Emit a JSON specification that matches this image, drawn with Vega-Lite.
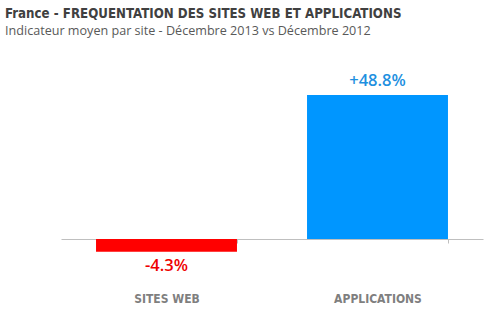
{
  "$schema": "https://vega.github.io/schema/vega-lite/v6.json",
  "width": 422,
  "height": 177,
  "autosize": {"type": "none"},
  "padding": {"left": 61, "top": 62, "right": 19, "bottom": 88},
  "background": "white",
  "config": {"view": {"stroke": null}},
  "title": {
    "text": "France - FREQUENTATION DES SITES WEB ET APPLICATIONS",
    "subtitle": "Indicateur moyen par site - Décembre 2013 vs Décembre 2012",
    "anchor": "start",
    "frame": "group",
    "dx": -56,
    "offset": 23,
    "font": "DejaVu Sans Condensed, DejaVu Sans",
    "fontSize": 13.2,
    "fontWeight": "bold",
    "color": "#404040",
    "subtitleFont": "Open Sans",
    "subtitleFontSize": 12.6,
    "subtitleColor": "#595959",
    "subtitlePadding": 4
  },
  "data": {
    "values": [
      {"category": "SITES WEB", "value": -4.3, "label": "-4.3%"},
      {"category": "APPLICATIONS", "value": 48.8, "label": "+48.8%"}
    ]
  },
  "encoding": {
    "x": {
      "field": "category",
      "type": "nominal",
      "sort": ["SITES WEB", "APPLICATIONS"],
      "scale": {"paddingInner": 0.332, "paddingOuter": 0.166},
      "axis": {
        "title": null,
        "labelAngle": 0,
        "domainColor": "#bfbfbf",
        "tickColor": "#bfbfbf",
        "tickSize": 4,
        "tickBand": "extent",
        "labelPadding": 50,
        "labelFont": "DejaVu Sans Condensed, DejaVu Sans",
        "labelFontSize": 12,
        "labelFontWeight": "bold",
        "labelColor": "#7f7f7f"
      }
    },
    "y": {
      "field": "value",
      "type": "quantitative",
      "scale": {"domain": [0, 60], "nice": false},
      "axis": null
    }
  },
  "layer": [
    {
      "mark": {"type": "bar"},
      "encoding": {
        "color": {
          "field": "category",
          "type": "nominal",
          "scale": {"domain": ["SITES WEB", "APPLICATIONS"], "range": ["#ff0000", "#0096ff"]},
          "legend": null
        }
      }
    },
    {
      "transform": [{"filter": "datum.value >= 0"}],
      "mark": {"type": "text", "baseline": "alphabetic", "dy": -9, "font": "Open Sans", "fontSize": 16.5, "fontWeight": 600, "color": "#1e90e0"},
      "encoding": {"text": {"field": "label"}}
    },
    {
      "transform": [{"filter": "datum.value < 0"}],
      "mark": {"type": "text", "baseline": "top", "dy": 6, "font": "Open Sans", "fontSize": 16.5, "fontWeight": 600, "color": "#ee0000"},
      "encoding": {"text": {"field": "label"}}
    }
  ]
}
